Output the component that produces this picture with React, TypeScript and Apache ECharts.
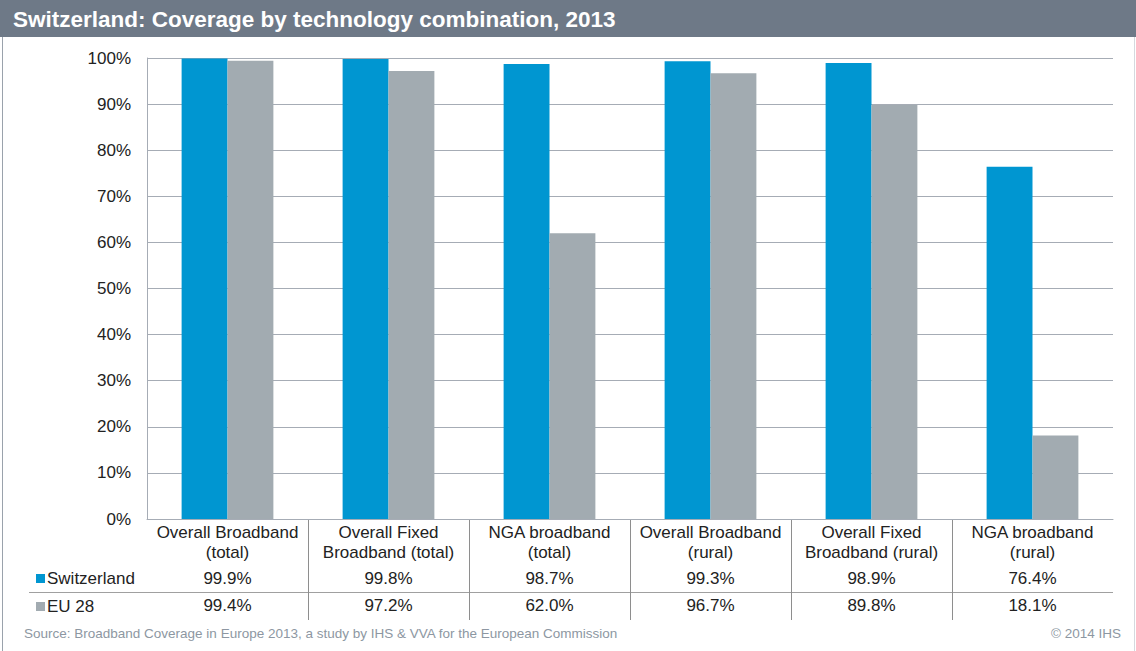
import React, { useEffect, useRef } from "react";
import * as echarts from "echarts";

const categories = [
  "Overall Broadband\n(total)",
  "Overall Fixed\nBroadband (total)",
  "NGA broadband\n(total)",
  "Overall Broadband\n(rural)",
  "Overall Fixed\nBroadband (rural)",
  "NGA broadband\n(rural)",
];
const switzerland = [99.9, 99.8, 98.7, 99.3, 98.9, 76.4];
const eu28 = [99.4, 97.2, 62.0, 96.7, 89.8, 18.1];
const seriesNames = ["Switzerland", "EU 28"];
const yTicks = [0, 10, 20, 30, 40, 50, 60, 70, 80, 90, 100];

const W = 1136;
const H = 651;
const GL = 147;
const GR = 23;
const GT = 58;
const GB = 132;
const FONT = "'Liberation Sans', Arial, sans-serif";
const BLUE = "#0096d1";
const GREY = "#a2abb1";
const LINE = "#a6acb5";
const FS = 17;

export default function App() {
  const ref = useRef<HTMLDivElement>(null);
  useEffect(() => {
    document.body.style.margin = "0";
    const chart = echarts.init(ref.current!, null, { renderer: "svg" });
    const plotW = W - GL - GR;
    const cw = plotW / categories.length;
    const axisY = H - GB;
    const seps: any[] = [];
    for (let i = 1; i < categories.length; i++) {
      const x = Math.round(GL + cw * i) + 0.5;
      seps.push({
        type: "line",
        shape: { x1: x, y1: axisY, x2: x, y2: axisY + 101 },
        style: { stroke: "#8e8e8e", lineWidth: 1 },
        silent: true,
      });
    }
    chart.setOption({
      animation: false,
      backgroundColor: "#ffffff",
      textStyle: { fontFamily: FONT },
      grid: { left: GL, right: GR, top: GT, bottom: GB, containLabel: false },
      legend: {
        orient: "vertical",
        left: 31,
        top: 565,
        itemWidth: 9,
        itemHeight: 9,
        itemGap: 11,
        icon: "rect",
        data: seriesNames,
        textStyle: { fontFamily: FONT, fontSize: FS, lineHeight: 17, color: "#222", padding: [0, 0, 0, -3] },
      },
      xAxis: [
        {
          type: "category",
          data: categories,
          axisLine: { lineStyle: { color: LINE, width: 1 } },
          axisTick: { show: false },
          axisLabel: {
            interval: 0,
            fontFamily: FONT,
            fontSize: FS,
            lineHeight: 20.5,
            color: "#222",
            margin: 3,
          },
        },
        {
          type: "category",
          position: "bottom",
          offset: 46,
          data: switzerland.map((v) => v.toFixed(1) + "%"),
          axisLine: { show: false },
          axisTick: { show: false },
          axisLabel: { interval: 0, fontFamily: FONT, fontSize: FS, lineHeight: 18, color: "#222", margin: 4 },
        },
        {
          type: "category",
          position: "bottom",
          offset: 73,
          data: eu28.map((v) => v.toFixed(1) + "%"),
          axisLine: { show: false },
          axisTick: { show: false },
          axisLabel: { interval: 0, fontFamily: FONT, fontSize: FS, lineHeight: 18, color: "#222", margin: 4 },
        },
      ],
      yAxis: {
        type: "value",
        min: yTicks[0],
        max: yTicks[yTicks.length - 1],
        interval: 10,
        axisLine: { show: true, lineStyle: { color: LINE, width: 1 } },
        axisTick: { show: false },
        splitLine: { lineStyle: { color: LINE, width: 1 } },
        axisLabel: {
          formatter: "{value}%",
          fontFamily: FONT,
          fontSize: FS,
          color: "#222",
          margin: 16,
        },
      },
      series: [
        {
          name: seriesNames[0],
          type: "bar",
          xAxisIndex: 0,
          data: switzerland,
          itemStyle: { color: BLUE },
          barGap: "0%",
          barCategoryGap: "43%",
        },
        {
          name: seriesNames[1],
          type: "bar",
          xAxisIndex: 0,
          data: eu28,
          itemStyle: { color: GREY },
          barGap: "0%",
          barCategoryGap: "43%",
        },
      ],
      graphic: [
        {
          type: "rect",
          shape: { x: 0, y: 0, width: W, height: 37 },
          style: { fill: "#6e7987" },
          silent: true,
        },
        {
          type: "text",
          x: 13,
          y: 19,
          style: {
            text: "Switzerland: Coverage by technology combination, 2013",
            fill: "#ffffff",
            font: "bold 22.5px " + FONT,
            textVerticalAlign: "middle",
          },
          silent: true,
        },
        {
          type: "line",
          shape: { x1: 2.5, y1: 37, x2: 2.5, y2: H },
          style: { stroke: "#9aa2ac", lineWidth: 1 },
          silent: true,
        },
        {
          type: "line",
          shape: { x1: 1134.5, y1: 37, x2: 1134.5, y2: H },
          style: { stroke: "#d5d9de", lineWidth: 1 },
          silent: true,
        },
        {
          type: "line",
          shape: { x1: 29, y1: 592.5, x2: W - GR, y2: 592.5 },
          style: { stroke: "#a0a0a0", lineWidth: 1 },
          silent: true,
        },
        ...seps,
        {
          type: "text",
          x: 24,
          y: 633,
          style: {
            text: "Source: Broadband Coverage in Europe 2013, a study by IHS & VVA for the European Commission",
            fill: "#8d97a2",
            font: "13.5px " + FONT,
            textVerticalAlign: "middle",
          },
          silent: true,
        },
        {
          type: "text",
          x: 1121,
          y: 633,
          style: {
            text: "© 2014 IHS",
            fill: "#8d97a2",
            font: "13.5px " + FONT,
            textAlign: "right",
            textVerticalAlign: "middle",
          },
          silent: true,
        },
      ],
    });
    return () => chart.dispose();
  }, []);
  return (
    <div
      ref={ref}
      style={{ position: "fixed", left: 0, top: 0, width: W, height: H }}
    />
  );
}
